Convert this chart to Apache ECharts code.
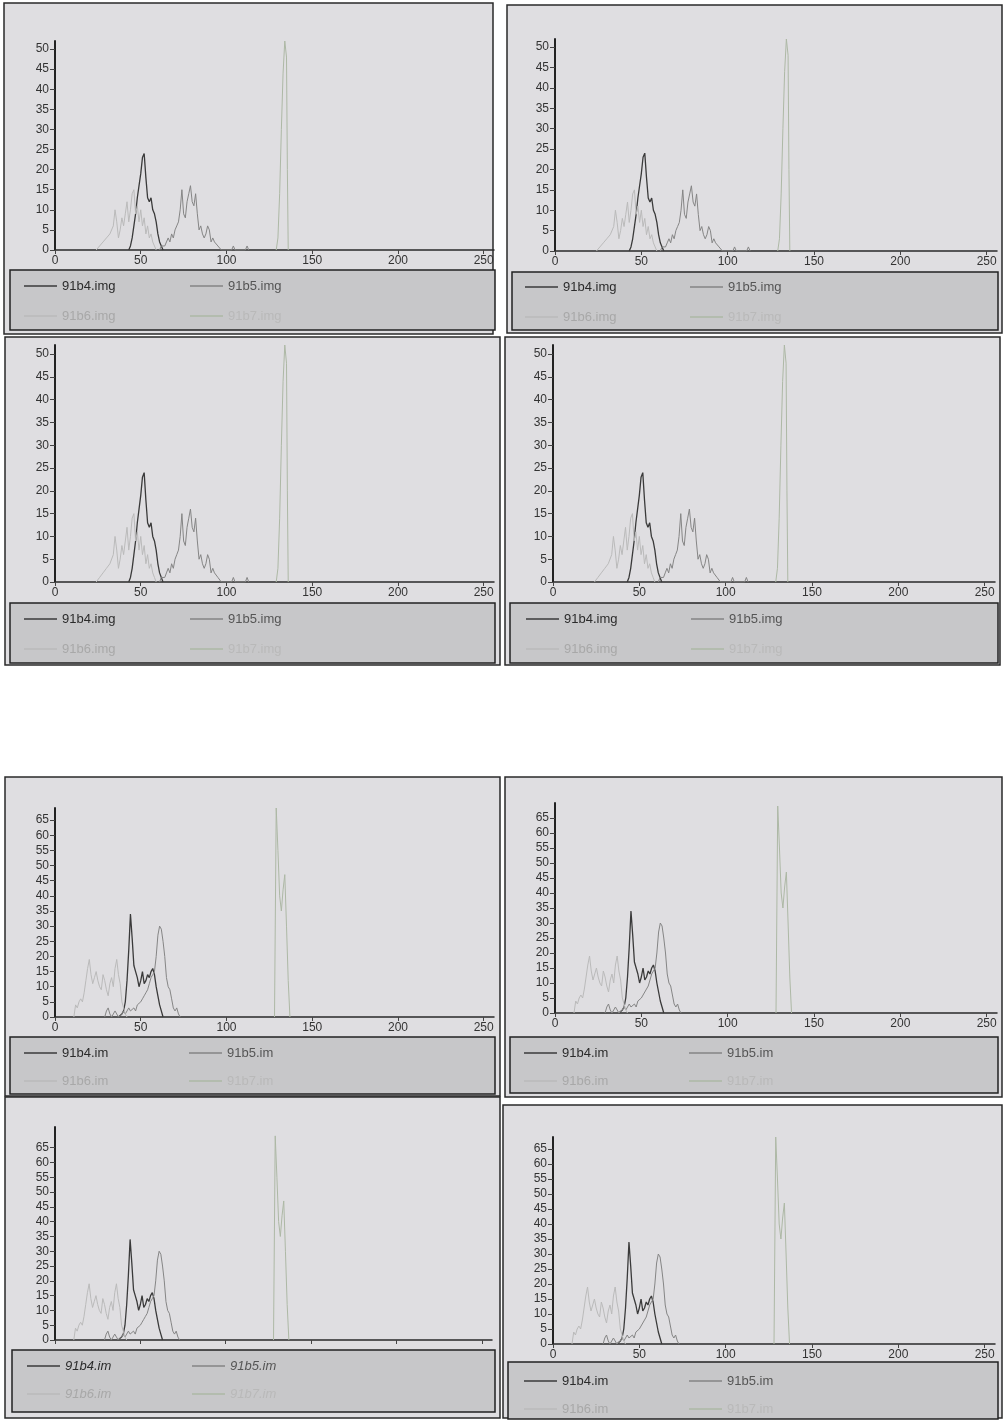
<!DOCTYPE html>
<html>
<head>
<meta charset="utf-8">
<script src="https://cdn.jsdelivr.net/npm/echarts@6/dist/echarts.min.js"></script>
<style>
html, body { margin: 0; padding: 0; background: #ffffff; }
#main { width: 1004px; height: 1421px; }
</style>
</head>
<body>
<div id="main"></div>
<script>
// tick labels
var xTicks = [0, 50, 100, 150, 200, 250];
var yTicksTop = [0, 5, 10, 15, 20, 25, 30, 35, 40, 45, 50];
var yTicksBottom = [0, 5, 10, 15, 20, 25, 30, 35, 40, 45, 50, 55, 60, 65];

// legend names
var namesTop = ['91b4.img', '91b5.img', '91b6.img', '91b7.img'];
var namesBottom = ['91b4.im', '91b5.im', '91b6.im', '91b7.im'];

// histograms, upper four panels  [grey level, count]
var top91b4 = [[43, 0], [44, 1], [45, 3], [46, 6], [47, 9], [48, 13], [49, 16], [50, 19], [51, 23], [52, 24],
    [53, 18], [54, 13], [55, 12], [56, 13], [57, 10], [58, 9], [59, 7], [60, 4], [61, 2], [62, 1], [63, 0]];
var top91b5 = [[61, 0], [62, 1], [64, 1], [65, 2], [66, 3], [67, 2], [68, 4], [69, 3], [70, 5], [71, 6], [72, 7],
    [73, 10], [74, 15], [75, 9], [76, 8], [77, 12], [78, 14], [79, 16], [80, 12], [81, 11], [82, 14], [83, 9],
    [84, 5], [85, 6], [86, 4], [87, 3], [88, 4], [89, 6], [90, 5], [91, 2], [92, 3], [93, 2], [94, 2], [95, 1],
    [96, 1], [97, 0], [103, 0], [104, 1], [105, 0], [111, 0], [112, 1], [113, 0]];
var top91b6 = [[24, 0], [26, 1], [28, 2], [30, 3], [32, 4], [34, 6], [35, 10], [36, 7], [37, 3], [38, 5], [39, 8],
    [40, 6], [41, 9], [42, 12], [43, 7], [44, 10], [45, 14], [46, 15], [47, 9], [48, 11], [49, 7], [50, 10],
    [51, 6], [52, 8], [53, 4], [54, 6], [55, 3], [56, 4], [57, 2], [58, 1], [59, 0]];
var top91b7 = [[129, 0], [130, 3], [131, 14], [132, 30], [133, 44], [134, 52], [135, 48], [135.5, 20], [136, 0]];

// histograms, lower four panels
var bot91b4 = [[37, 0], [39, 1], [40, 2], [41, 5], [42, 12], [43, 22], [44, 34], [45, 26], [46, 17], [47, 15],
    [48, 13], [49, 10], [50, 12], [51, 15], [52, 11], [53, 12], [54, 14], [55, 13], [56, 15], [57, 16], [58, 14],
    [59, 10], [60, 7], [61, 4], [62, 2], [63, 0]];
var bot91b5 = [[29, 0], [30, 2], [31, 3], [32, 1], [33, 0], [34, 1], [35, 2], [36, 1], [37, 0], [39, 1], [40, 2],
    [41, 1], [42, 2], [43, 3], [44, 2], [45, 2], [46, 3], [47, 2], [48, 4], [49, 4], [50, 5], [51, 6], [52, 7],
    [53, 8], [54, 9], [55, 11], [56, 13], [57, 14], [58, 15], [59, 20], [60, 27], [61, 30], [62, 29], [63, 25],
    [64, 20], [65, 13], [66, 10], [67, 9], [68, 6], [69, 3], [70, 2], [71, 3], [72, 1], [73, 0]];
var bot91b6 = [[11, 0], [12, 4], [13, 3], [14, 5], [15, 6], [16, 5], [17, 8], [18, 12], [19, 16], [20, 19],
    [21, 14], [22, 11], [23, 13], [24, 15], [25, 12], [26, 10], [27, 9], [28, 14], [29, 12], [30, 9], [31, 7],
    [32, 11], [33, 13], [34, 10], [35, 16], [36, 19], [37, 14], [38, 11], [39, 5], [40, 3], [41, 1], [42, 0]];
var bot91b7 = [[128, 0], [129, 69], [130, 55], [131, 40], [132, 35], [133, 42], [134, 47], [135, 30],
    [136, 12], [137, 0]];

var lineColors = ['#3a3a3a', '#858585', '#bababa', '#adb8a5'];
var textColors = ['#2b2b2b', '#555555', '#a8a8a8', '#b9b9b9'];

var groups = {
    top: { names: namesTop, yTicks: yTicksTop, data: [top91b4, top91b5, top91b6, top91b7] },
    bottom: { names: namesBottom, yTicks: yTicksBottom, data: [bot91b4, bot91b5, bot91b6, bot91b7] }
};

// page layout of the eight scanned panels
var panels = [
    { g: 'top', box: [4, 3, 489, 331], grid: [55, 41, 439, 209], yMax: 52, leg: [10, 270, 485, 60], cols: [24, 190], row: 286, gap: 30 },
    { g: 'top', box: [507, 5, 495, 328], grid: [555, 39, 442, 212], yMax: 52, leg: [512, 272, 486, 58], cols: [525, 690], row: 287, gap: 30 },
    { g: 'top', box: [5, 337, 495, 328], grid: [55, 345, 439, 237], yMax: 52, leg: [10, 603, 485, 60], cols: [24, 190], row: 619, gap: 30 },
    { g: 'top', box: [505, 337, 495, 328], grid: [553, 345, 442, 237], yMax: 52, leg: [510, 603, 488, 60], cols: [526, 691], row: 619, gap: 30 },
    { g: 'bottom', box: [5, 777, 495, 319], grid: [55, 808, 439, 209], yMax: 69, leg: [10, 1037, 485, 57], cols: [24, 189], row: 1053, gap: 28 },
    { g: 'bottom', box: [505, 777, 497, 320], grid: [555, 803, 442, 210], yMax: 70, leg: [510, 1037, 488, 56], cols: [524, 689], row: 1053, gap: 28 },
    { g: 'bottom', box: [5, 1097, 495, 321], grid: [55, 1127, 437, 213], yMax: 72, leg: [12, 1350, 483, 62], cols: [27, 192], row: 1366, gap: 28, noX: true, italic: true },
    { g: 'bottom', box: [503, 1105, 499, 313], grid: [553, 1137, 442, 207], yMax: 69, leg: [508, 1362, 490, 57], cols: [524, 689], row: 1381, gap: 28 }
];

var font = "'Liberation Sans', Arial, sans-serif";

function buildOption() {
    var grids = [], xAxes = [], yAxes = [], series = [], legends = [], shapes = [];

    panels.forEach(function (p, i) {
        var grp = groups[p.g];

        shapes.push({
            type: 'rect', z: -100,
            shape: { x: p.box[0], y: p.box[1], width: p.box[2], height: p.box[3] },
            style: { fill: '#dfdee1', stroke: '#2a2a2a', lineWidth: 1.5 }
        });
        shapes.push({
            type: 'rect', z: -50,
            shape: { x: p.leg[0], y: p.leg[1], width: p.leg[2], height: p.leg[3] },
            style: { fill: '#c7c7c9', stroke: '#222222', lineWidth: 1.5 }
        });

        grids.push({ left: p.grid[0], top: p.grid[1], width: p.grid[2], height: p.grid[3] });

        xAxes.push({
            type: 'value', gridIndex: i, min: 0, max: 256,
            splitLine: { show: false },
            axisLine: { onZero: false, lineStyle: { color: '#2a2a2a', width: 1.5 } },
            axisTick: { customValues: xTicks, length: 4, lineStyle: { color: '#444' } },
            axisLabel: {
                show: !p.noX, customValues: xTicks, margin: 5,
                color: '#333', fontSize: 12, fontFamily: font
            }
        });

        yAxes.push({
            type: 'value', gridIndex: i, min: 0, max: p.yMax,
            splitLine: { show: false },
            axisLine: { show: true, lineStyle: { color: '#222', width: 2 } },
            axisTick: { customValues: grp.yTicks, length: 5, lineStyle: { color: '#444' } },
            axisLabel: {
                customValues: grp.yTicks, margin: 6,
                color: '#333', fontSize: 12, fontFamily: font
            }
        });

        grp.names.forEach(function (name, k) {
            series.push({
                name: name, type: 'line',
                xAxisIndex: i, yAxisIndex: i,
                symbol: 'none',
                lineStyle: { color: lineColors[k], width: k === 0 ? 1.3 : 1 },
                itemStyle: { color: lineColors[k] },
                data: grp.data[k]
            });
        });

        // two columns of the legend box
        [[0, 2], [1, 3]].forEach(function (pair, c) {
            legends.push({
                z: 10,
                orient: 'vertical',
                padding: 0,
                left: p.cols[c], top: p.row - 8,
                icon: 'rect',
                itemWidth: 33, itemHeight: 1.5,
                itemGap: p.gap - 16,
                textStyle: {
                    fontSize: 13, lineHeight: 16, fontFamily: font,
                    fontStyle: p.italic ? 'italic' : 'normal'
                },
                data: pair.map(function (k) {
                    return { name: grp.names[k], textStyle: { color: textColors[k] } };
                })
            });
        });
    });

    return {
        backgroundColor: '#ffffff',
        animation: false,
        graphic: { elements: shapes },
        grid: grids,
        xAxis: xAxes,
        yAxis: yAxes,
        legend: legends,
        series: series
    };
}

var myChart = echarts.init(document.getElementById('main'));
myChart.setOption(buildOption());
</script>
</body>
</html>
